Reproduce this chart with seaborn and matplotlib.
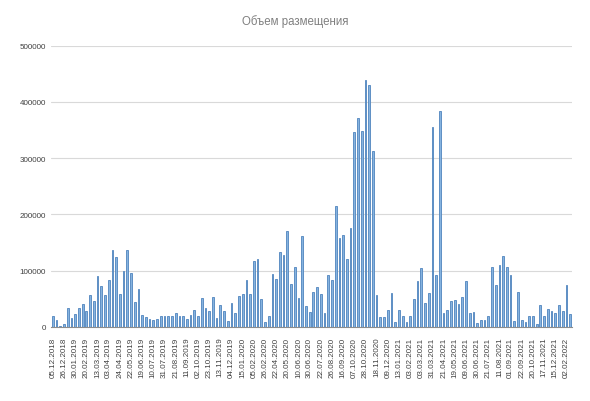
import matplotlib
matplotlib.use("Agg")
import matplotlib.pyplot as plt
import seaborn as sns
import pandas as pd

title = "Объем размещения"

values = [
    19000, 13000, 2000, 5500, 34000, 16000, 23000, 34000, 41000, 28000,
    57000, 46000, 91000, 73000, 57000, 83000, 137000, 125000, 58000, 99000,
    136000, 96000, 45000, 67000, 22000, 17000, 14000, 13000, 14000, 19000,
    19000, 19000, 19000, 24000, 19000, 19000, 14000, 22000, 31000, 19000,
    51000, 34000, 29000, 53000, 16000, 39000, 29000, 11000, 42000, 25000,
    55000, 58000, 84000, 58000, 117000, 121000, 49000, 8000, 20000, 95000,
    86000, 133000, 128000, 170000, 77000, 107000, 52000, 161000, 38000, 27000,
    63000, 71000, 59000, 25000, 93000, 83000, 215000, 158000, 164000, 120000,
    175000, 347000, 372000, 348000, 438000, 429000, 313000, 56000, 17000, 17000,
    30000, 60000, 9500, 31000, 20000, 9500, 20000, 50000, 81000, 104000,
    43000, 60000, 355000, 92000, 383000, 24000, 31000, 46000, 48000, 40000,
    53000, 81000, 24000, 27000, 6600, 13000, 12000, 19000, 106000, 75000,
    110000, 126000, 107000, 92000, 11000, 63000, 13000, 8000, 19000, 19000,
    5500, 39000, 20000, 32000, 29000, 25000, 39000, 28000, 75000, 23000,
]

tick_labels = [
    "05.12.2018", "26.12.2018", "30.01.2019", "20.02.2019", "13.03.2019",
    "03.04.2019", "24.04.2019", "22.05.2019", "19.06.2019", "10.07.2019",
    "31.07.2019", "21.08.2019", "11.09.2019", "02.10.2019", "23.10.2019",
    "13.11.2019", "04.12.2019", "15.01.2020", "05.02.2020", "26.02.2020",
    "22.04.2020", "20.05.2020", "10.06.2020", "30.06.2020", "22.07.2020",
    "26.08.2020", "16.09.2020", "07.10.2020", "28.10.2020", "18.11.2020",
    "09.12.2020", "13.01.2021", "03.02.2021", "03.03.2021", "31.03.2021",
    "21.04.2021", "19.05.2021", "09.06.2021", "30.06.2021", "21.07.2021",
    "11.08.2021", "01.09.2021", "22.09.2021", "20.10.2021", "17.11.2021",
    "15.12.2021", "02.02.2022",
]

y_ticks = [0, 100000, 200000, 300000, 400000, 500000]

n = len(values)
df = pd.DataFrame({"pos": list(range(n)), "value": values})

sns.set_style("white")
plt.rcParams["font.family"] = ["Liberation Sans", "DejaVu Sans"]

fig = plt.figure(figsize=(5.9, 4.02), dpi=100)
ax = fig.add_axes([51 / 590, 1 - 328 / 402, 521 / 590, (328 - 46.5) / 402])

sns.barplot(data=df, x="pos", y="value", color="#86b3df", saturation=1,
            width=0.47, edgecolor="#4f84bd", linewidth=0.6, ax=ax, zorder=3)

ax.set_xlim(-0.5, n - 0.5)
ax.set_ylim(0, 500000)
ax.set_yticks(y_ticks)
ax.set_yticklabels([str(v) for v in y_ticks], fontsize=5.8, color="#404040")
ax.yaxis.grid(True, color="#d9d9d9", linewidth=0.8, zorder=0)
ax.xaxis.grid(False)

full_labels = [tick_labels[i // 3] if i % 3 == 0 and i // 3 < len(tick_labels) else "" for i in range(n)]
ax.set_xticks(list(range(n)))
ax.set_xticklabels(full_labels, rotation=90, fontsize=5.8, color="#404040")
ax.tick_params(axis="x", length=4.5, width=0.6, color="#404040", pad=2.5)
ax.tick_params(axis="y", length=0, pad=3.5)

for s in ["left", "right", "top"]:
    ax.spines[s].set_visible(False)
ax.spines["bottom"].set_color("#8c8c8c")
ax.spines["bottom"].set_linewidth(0.8)
ax.set_xlabel("")
ax.set_ylabel("")

fig.text(0.5, 1 - 22 / 402, title, ha="center", va="center", fontsize=8.3, color="#808080")

fig.savefig("out.png", dpi=100, facecolor="white")
